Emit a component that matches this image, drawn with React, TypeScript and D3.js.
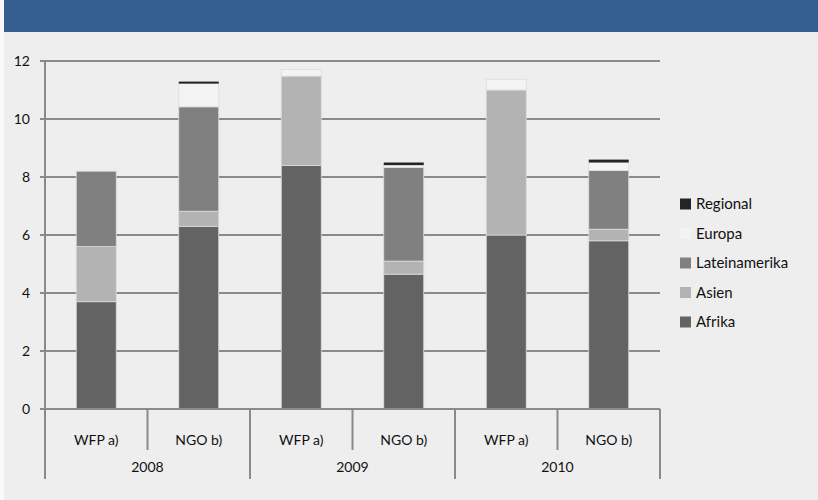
import React from "react";
import * as d3 from "d3";

const years = ["2008", "2009", "2010"];
const subLabels = ["WFP a)", "NGO b)"];
const categories = ["2008|WFP a)", "2008|NGO b)", "2009|WFP a)", "2009|NGO b)", "2010|WFP a)", "2010|NGO b)"];
const seriesNames = ["Afrika", "Asien", "Lateinamerika", "Europa", "Regional"];
const afrika = [3.7, 6.3, 8.4, 4.65, 6.0, 5.8];
const asien = [1.9, 0.52, 3.08, 0.45, 5.0, 0.4];
const lateinamerika = [2.6, 3.6, 0, 3.23, 0, 2.02];
const europa = [0, 0.8, 0.23, 0.08, 0.37, 0.28];
const regional = [0, 0.07, 0, 0.09, 0, 0.1];
const yTicks = [0, 2, 4, 6, 8, 10, 12];
const colors = ["#636363", "#b3b3b3", "#808080", "#f3f3f3", "#242424"];

const W = 818;
const H = 500;
const font = "Lato, 'Open Sans', sans-serif";

export default function App() {
  const x0 = 45, x1 = 660, yTop = 61, yBot = 409;
  const x = d3.scaleBand<string>().domain(categories).range([x0, x1]).paddingInner(0.61).paddingOuter(0.305);
  const xc = d3.scaleBand<string>().domain(categories).range([x0, x1]);
  const y = d3.scaleLinear().domain([0, 12]).range([yBot, yTop]);
  const rows = categories.map((c, i) => ({
    cat: c,
    Afrika: afrika[i],
    Asien: asien[i],
    Lateinamerika: lateinamerika[i],
    Europa: europa[i],
    Regional: regional[i],
  }));
  const stack = d3.stack<any>().keys(seriesNames)(rows);
  const step = xc.step();
  const legendOrder = [...seriesNames].reverse();

  return (
    <svg width={W} height={H} style={{ position: "absolute", left: 0, top: 0 }} fontFamily={font}>
      <rect x={0} y={0} width={W} height={H} fill="#fafafa" />
      <rect x={4} y={32} width={W - 4} height={H - 32} fill="#eeeeee" />
      <rect x={4} y={0} width={W - 4} height={32} fill="#365f91" />
      {yTicks.map((t) => (
        <g key={t}>
          <line x1={x0 - 5} x2={x1} y1={y(t)} y2={y(t)} stroke="#8a8a8a" strokeWidth={2} />
          <text x={30} y={y(t)} dy="0.35em" textAnchor="end" fontSize={14} fill="#111">{t}</text>
        </g>
      ))}
      {stack.map((s, si) => (
        <g key={seriesNames[si]} fill={colors[si]}>
          {s.map((d, i) =>
            d[1] - d[0] > 0 ? (
              <rect
                key={i}
                x={x(categories[i])!}
                width={x.bandwidth()}
                y={y(d[1])}
                height={y(d[0]) - y(d[1])}
                stroke={si === 4 ? "none" : "#dcdcdc"}
                strokeWidth={si === 4 ? 0 : 0.8}
              />
            ) : null
          )}
        </g>
      ))}
      <line x1={x0} x2={x0} y1={yTop} y2={yBot} stroke="#8a8a8a" strokeWidth={2} />
      <line x1={x0 - 5} x2={x1} y1={yBot} y2={yBot} stroke="#8a8a8a" strokeWidth={2} />
      {categories.map((c, i) => {
        const xx = xc(c)! + step;
        const isYear = i % 2 === 1;
        return (
          <line key={c} x1={xx} x2={xx} y1={yBot} y2={isYear ? 479 : 450} stroke="#8a8a8a" strokeWidth={2} />
        );
      })}
      <line x1={x0} x2={x0} y1={yBot} y2={479} stroke="#8a8a8a" strokeWidth={2} />
      {categories.map((c, i) => (
        <text key={c} x={xc(c)! + step / 2} y={440} dy="0.35em" textAnchor="middle" fontSize={14} fill="#111">
          {subLabels[i % 2]}
        </text>
      ))}
      {years.map((yr, i) => (
        <text key={yr} x={xc(categories[i * 2])! + step} y={467} dy="0.35em" textAnchor="middle" fontSize={14} fill="#111">
          {yr}
        </text>
      ))}
      {legendOrder.map((name, i) => {
        const ly = 204 + i * 29.5;
        const ci = seriesNames.indexOf(name);
        return (
          <g key={name}>
            <rect x={680} y={ly - 5.5} width={11} height={11} fill={colors[ci]} />
            <text x={696} y={ly} dy="0.35em" fontSize={15} fill="#111">{name}</text>
          </g>
        );
      })}
    </svg>
  );
}
